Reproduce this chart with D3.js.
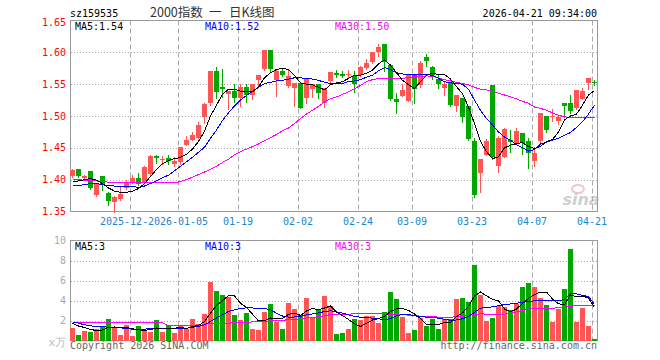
<!DOCTYPE html>
<html>
<head>
<meta charset="utf-8">
<script src="https://cdn.jsdelivr.net/npm/d3@7"></script>
<style>
  body { margin: 0; background: #fff; }
  svg { display: block; font-family: 'DejaVu Sans Mono', monospace; font-size: 10px; }
</style>
</head>
<body>
<svg id="chart" width="660" height="360"></svg>
<script>
// daily bars, 2025-12-08 .. 2026-04-21 (88 sessions)
const openP = [1.406,1.416,1.402,1.413,1.376,1.405,1.379,1.365,1.369,1.387,
  1.396,1.403,1.396,1.409,1.437,1.432,1.434,1.424,1.427,1.455,
  1.463,1.466,1.498,1.520,1.571,1.545,1.535,1.540,1.529,1.545,
  1.533,1.556,1.574,1.604,1.556,1.571,1.547,1.544,1.552,1.529,
  1.543,1.551,1.520,1.555,1.567,1.566,1.565,1.563,1.564,1.575,
  1.585,1.600,1.613,1.580,1.527,1.532,1.524,1.565,1.548,1.592,
  1.577,1.558,1.544,1.553,1.516,1.529,1.515,1.460,1.411,1.438,
  1.549,1.422,1.436,1.463,1.457,1.474,1.460,1.429,1.461,1.500,
  1.4985,1.492,1.520,1.521,1.512,1.527,1.5525,1.553];
const closeP = [1.415,1.405,1.405,1.387,1.394,1.392,1.367,1.372,1.378,1.396,
  1.403,1.393,1.420,1.437,1.434,1.433,1.429,1.430,1.452,1.463,
  1.470,1.486,1.519,1.571,1.538,1.543,1.539,1.529,1.545,1.533,
  1.550,1.564,1.604,1.574,1.571,1.564,1.563,1.552,1.513,1.558,
  1.551,1.536,1.544,1.569,1.564,1.563,1.566,1.551,1.577,1.584,
  1.600,1.608,1.585,1.527,1.522,1.541,1.565,1.543,1.583,1.586,
  1.564,1.550,1.550,1.517,1.533,1.499,1.464,1.376,1.433,1.461,
  1.435,1.465,1.479,1.459,1.476,1.457,1.442,1.442,1.505,1.478,
  1.500,1.499,1.515,1.508,1.541,1.540,1.560,1.552];
const highP = [1.416,1.416,1.408,1.413,1.395,1.405,1.380,1.374,1.388,1.399,
  1.407,1.410,1.421,1.438,1.438,1.437,1.438,1.435,1.452,1.469,
  1.475,1.491,1.520,1.571,1.577,1.574,1.539,1.550,1.550,1.551,
  1.550,1.564,1.604,1.604,1.574,1.576,1.574,1.552,1.552,1.558,
  1.551,1.551,1.544,1.569,1.572,1.571,1.572,1.571,1.579,1.590,
  1.600,1.613,1.613,1.582,1.536,1.550,1.565,1.565,1.587,1.597,
  1.578,1.565,1.553,1.553,1.533,1.529,1.515,1.465,1.433,1.464,
  1.549,1.468,1.481,1.478,1.481,1.474,1.466,1.452,1.505,1.500,
  1.511,1.502,1.520,1.533,1.541,1.544,1.560,1.557];
const lowP = [1.404,1.404,1.400,1.385,1.375,1.383,1.360,1.350,1.368,1.386,
  1.395,1.391,1.395,1.408,1.426,1.424,1.424,1.422,1.425,1.454,
  1.462,1.465,1.489,1.517,1.528,1.530,1.511,1.522,1.516,1.522,
  1.527,1.549,1.572,1.569,1.532,1.563,1.546,1.516,1.512,1.520,
  1.530,1.529,1.514,1.553,1.561,1.562,1.559,1.537,1.563,1.574,
  1.584,1.594,1.570,1.525,1.505,1.531,1.523,1.521,1.546,1.578,
  1.558,1.544,1.533,1.516,1.508,1.491,1.462,1.372,1.381,1.438,
  1.433,1.412,1.435,1.444,1.456,1.441,1.418,1.421,1.458,1.475,
  1.492,1.487,1.499,1.505,1.511,1.526,1.543,1.549];
// volume, x10k
const volume = [1.3,0.57,0.97,0.87,1.17,1.4,2.17,1.23,0.5,1.57,
  0.47,1.47,1.07,0.87,2.07,0.87,1.53,0.77,1.53,1.17,
  2.17,1.67,2.67,5.87,4.97,4.57,4.4,2.57,2.07,2.73,
  1.17,1.07,2.87,3.67,1.87,1.17,3.77,3.17,2.57,4.27,
  2.27,3.07,4.47,3.45,0.67,0.8,1.17,2.2,2.1,2.47,
  2.47,1.77,2.87,4.87,4.17,2.37,0.77,1.07,2.27,1.47,
  2.17,1.17,2.17,2.17,4.17,4.27,3.87,7.57,4.57,1.97,
  2.27,3.47,3.37,3.07,3.67,5.37,5.77,5.37,4.27,3.57,
  1.87,3.17,5.17,9.17,1.87,3.27,1.47,0.17];

// moving averages as drawn on the chart
const ma5 = [1.396,1.398,1.400,1.402,1.399,1.394,1.387,1.382,1.380,1.380,
  1.382,1.386,1.394,1.405,1.416,1.425,1.430,1.433,1.435,1.440,
  1.448,1.460,1.476,1.500,1.517,1.534,1.542,1.542,1.539,1.538,
  1.538,1.546,1.560,1.568,1.573,1.575,1.573,1.564,1.552,1.550,
  1.549,1.545,1.541,1.549,1.552,1.554,1.559,1.564,1.564,1.567,
  1.572,1.582,1.588,1.580,1.568,1.556,1.549,1.543,1.554,1.564,
  1.567,1.565,1.565,1.558,1.546,1.535,1.514,1.488,1.460,1.444,
  1.433,1.436,1.450,1.454,1.457,1.458,1.452,1.449,1.452,1.460,
  1.463,1.475,1.494,1.500,1.503,1.517,1.533,1.540];
const ma10 = [1.390,1.391,1.392,1.394,1.394,1.392,1.391,1.390,1.390,1.390,
  1.389,1.388,1.390,1.394,1.398,1.403,1.407,1.414,1.421,1.428,
  1.435,1.443,1.451,1.465,1.478,1.493,1.505,1.516,1.525,1.532,
  1.539,1.545,1.551,1.553,1.555,1.556,1.558,1.560,1.560,1.559,
  1.558,1.556,1.553,1.551,1.551,1.551,1.554,1.555,1.557,1.561,
  1.564,1.571,1.576,1.573,1.568,1.566,1.565,1.565,1.565,1.565,
  1.564,1.559,1.554,1.552,1.551,1.550,1.542,1.525,1.509,1.496,
  1.486,1.475,1.467,1.462,1.455,1.450,1.445,1.447,1.456,1.459,
  1.462,1.465,1.470,1.474,1.482,1.491,1.503,1.517];
const ma30 = [1.400,1.400,1.399,1.399,1.398,1.397,1.396,1.395,1.395,1.395,
  1.395,1.395,1.395,1.395,1.395,1.395,1.395,1.395,1.397,1.400,
  1.404,1.408,1.412,1.416,1.421,1.427,1.432,1.439,1.444,1.448,
  1.452,1.456,1.461,1.466,1.471,1.477,1.481,1.488,1.496,1.503,
  1.509,1.515,1.522,1.527,1.530,1.534,1.538,1.543,1.548,1.554,
  1.557,1.559,1.559,1.559,1.559,1.559,1.5606,1.5617,1.562,1.563,
  1.562,1.560,1.557,1.555,1.553,1.551,1.549,1.545,1.542,1.541,
  1.539,1.536,1.533,1.530,1.527,1.523,1.520,1.514,1.512,1.509,
  1.505,1.501,1.499,1.497,1.497,1.497,1.497,1.497];
const vma5 = [1.73,1.45,1.3,1.1,1.0,1.05,1.3,1.35,1.28,1.3,
  1.17,1.06,1.02,1.1,1.2,1.25,1.25,1.22,1.32,1.2,
  1.4,1.5,1.9,2.75,3.5,4.0,4.47,4.45,3.73,3.3,
  2.63,1.95,2.0,2.25,2.15,2.2,2.62,2.73,2.51,2.95,
  3.2,3.07,3.25,3.45,2.85,2.5,2.1,1.67,1.4,1.72,
  2.05,2.18,2.4,2.9,3.18,3.2,3.0,2.66,2.2,1.62,
  1.56,1.6,1.8,1.83,2.38,2.76,3.4,4.45,4.85,4.47,
  4.1,3.98,3.15,2.86,3.15,3.7,4.2,4.6,4.85,4.85,
  4.15,3.66,3.6,4.58,4.35,4.45,4.25,3.3];
const vma10 = [1.87,1.73,1.57,1.47,1.4,1.37,1.33,1.33,1.27,1.2,
  1.13,1.1,1.13,1.2,1.25,1.23,1.2,1.17,1.2,1.22,
  1.33,1.4,1.57,1.9,2.25,2.57,2.9,3.07,3.2,3.27,
  3.25,3.2,3.2,3.07,2.73,2.45,2.33,2.35,2.4,2.57,
  2.65,2.75,2.9,2.97,2.87,2.73,2.57,2.4,2.33,2.3,
  2.23,2.17,2.07,2.2,2.47,2.6,2.6,2.47,2.4,2.33,
  2.33,2.23,2.12,2.02,2.05,2.17,2.4,2.83,3.23,3.3,
  3.37,3.47,3.6,3.65,3.73,3.8,3.9,3.97,4.0,4.0,
  4.0,3.97,4.1,4.68,4.67,4.5,4.4,3.6];
const vma30 = [1.77,1.77,1.77,1.77,1.77,1.77,1.77,1.77,1.77,1.77,
  1.77,1.77,1.77,1.77,1.77,1.77,1.47,1.47,1.47,1.47,
  1.47,1.47,1.6,1.7,1.73,1.73,1.73,1.8,1.8,1.8,
  1.87,1.87,1.87,1.97,1.97,1.97,2.13,2.13,2.13,2.27,
  2.27,2.4,2.45,2.6,2.6,2.6,2.63,2.67,2.67,2.67,
  2.67,2.67,2.67,2.63,2.63,2.63,2.53,2.53,2.43,2.43,
  2.43,2.33,2.33,2.33,2.37,2.43,2.53,2.6,2.67,2.63,
  2.63,2.63,2.63,2.73,2.87,3.0,3.13,3.23,3.23,3.23,
  3.23,3.27,3.33,3.43,3.47,3.47,3.47,3.47];

const tickIndex = [10, 18, 28, 38, 48, 57, 67, 77, 87];
// first label is mostly hidden under the second one in the original, only "2025-12-" shows
const tickLabels = ['2025-12-', '2026-01-05', '01-19', '02-02', '02-24', '03-09', '03-23', '04-07', '04-21'];
const priceTicks = [1.35, 1.40, 1.45, 1.50, 1.55, 1.60, 1.65];
const volTicks = [2, 4, 6, 8, 10];

const UP = '#ff5555', DOWN = '#00a800', GRID = '#aaa', BORDER = '#999';

const svg = d3.select('#chart');

const x = d3.scaleBand().domain(d3.range(openP.length)).range([70, 598]);
const y = d3.scaleLinear().domain([1.35, 1.65]).range([211.5, 20.5]);
const yVol = d3.scaleLinear().domain([0, 10]).range([340.5, 240.5]);
const px = (v) => Math.round(v) + 0.5;

// panel grid + frame
function drawPanel(scale, gridValues, top, bottom) {
  const g = svg.append('g');
  g.selectAll('.h')
    .data(gridValues)
    .join('line')
    .attr('x1', 71).attr('x2', 597)
    .attr('y1', (d) => px(scale(d))).attr('y2', (d) => px(scale(d)))
    .attr('stroke', GRID).attr('stroke-dasharray', '1,2');
  g.selectAll('.v')
    .data(tickIndex)
    .join('line')
    .attr('x1', (d) => x(d) + 0.5).attr('x2', (d) => x(d) + 0.5)
    .attr('y1', top).attr('y2', bottom)
    .attr('stroke', GRID).attr('stroke-dasharray', '5,3');
  g.append('rect')
    .attr('x', 70.5).attr('y', top)
    .attr('width', 527).attr('height', bottom - top)
    .attr('fill', 'none').attr('stroke', BORDER);
}

drawPanel(y, [1.40, 1.45, 1.50, 1.55, 1.60], 20.5, 211.5);
drawPanel(yVol, [2, 4, 6, 8], 240.5, 340.5);

// watermark
const logo = svg.append('g').attr('opacity', 0.55);
logo.append('ellipse').attr('cx', 578).attr('cy', 189).attr('rx', 6).attr('ry', 4)
  .attr('fill', 'none').attr('stroke', '#d9a0a0').attr('stroke-width', 2);
logo.append('text').attr('x', 581).attr('y', 205).attr('text-anchor', 'middle')
  .style('font-family', 'DejaVu Sans').style('font-size', '16px')
  .style('font-weight', 'bold').style('font-style', 'italic')
  .attr('fill', '#aaa').text('sina');

// candles
const isUp = (i) => closeP[i] > openP[i];
const candles = svg.append('g').attr('shape-rendering', 'crispEdges');
candles.selectAll('line')
  .data(d3.range(openP.length))
  .join('line')
  .attr('x1', (i) => x(i) + 2.5).attr('x2', (i) => x(i) + 2.5)
  .attr('y1', (i) => Math.round(y(highP[i]))).attr('y2', (i) => Math.round(y(lowP[i])) + 1)
  .attr('stroke', (i) => (isUp(i) ? UP : DOWN));
candles.selectAll('rect')
  .data(d3.range(openP.length))
  .join('rect')
  .attr('x', (i) => x(i))
  .attr('y', (i) => Math.round(y(Math.max(openP[i], closeP[i]))))
  .attr('width', x.bandwidth() - 1)
  .attr('height', (i) => Math.max(1, Math.round(y(Math.min(openP[i], closeP[i]))) - Math.round(y(Math.max(openP[i], closeP[i])))))
  .attr('fill', (i) => (isUp(i) ? UP : DOWN));

// volume bars
svg.append('g').attr('shape-rendering', 'crispEdges')
  .selectAll('rect')
  .data(volume)
  .join('rect')
  .attr('x', (d, i) => x(i))
  .attr('y', (d) => Math.round(yVol(d)))
  .attr('width', x.bandwidth() - 1)
  .attr('height', (d) => 341 - Math.round(yVol(d)))
  .attr('fill', (d, i) => (isUp(i) ? UP : DOWN));

// moving average lines
function drawLine(values, scale, color) {
  const line = d3.line().x((d, i) => x(i) + 2.5).y((d) => scale(d));
  svg.append('path')
    .attr('d', line(values))
    .attr('fill', 'none')
    .attr('stroke', color)
    .attr('stroke-width', 1)
    .attr('shape-rendering', 'crispEdges');
}
drawLine(ma30, y, '#ff00ff');
drawLine(ma10, y, '#0000ff');
drawLine(ma5, y, '#000');
drawLine(vma30, yVol, '#ff00ff');
drawLine(vma10, yVol, '#0000ff');
drawLine(vma5, yVol, '#000');

// y labels
svg.append('g').selectAll('text')
  .data(priceTicks)
  .join('text')
  .attr('x', 66).attr('y', (d) => y(d) + (d === 1.65 ? 5.5 : 3.5))
  .attr('text-anchor', 'end').attr('fill', '#f00')
  .text((d) => d.toFixed(2));
svg.append('g').selectAll('text')
  .data(volTicks)
  .join('text')
  .attr('x', 66).attr('y', (d) => yVol(d) + 3.5)
  .attr('text-anchor', 'end').attr('fill', '#aaa')
  .text((d) => d);
svg.append('text').attr('x', 66).attr('y', 346).attr('text-anchor', 'end')
  .attr('fill', '#bbb').style('font-size', '11px').text('x万');

// x labels
const xl = svg.append('g').attr('fill', '#1a86d0');
tickIndex.forEach((d, k) => {
  if (k === 0) {
    // starts where the full centred date would start
    xl.append('text').attr('x', x(d) - 30).attr('y', 225).text(tickLabels[k]);
  } else {
    xl.append('text').attr('x', x(d)).attr('y', 225).attr('text-anchor', 'middle').text(tickLabels[k]);
  }
});

// MA legends
const legends = [['MA5:1.54', '#000', 75], ['MA10:1.52', '#0000ff', 205], ['MA30:1.50', '#ff00ff', 335]];
const volLegends = [['MA5:3', '#000', 75], ['MA10:3', '#0000ff', 205], ['MA30:3', '#ff00ff', 335]];
legends.forEach(([t, c, lx]) => svg.append('text').attr('x', lx).attr('y', 29.5).attr('fill', c).text(t));
volLegends.forEach(([t, c, lx]) => svg.append('text').attr('x', lx).attr('y', 249.5).attr('fill', c).text(t));

// header
svg.append('text').attr('x', 70).attr('y', 16.5).attr('fill', '#000').text('sz159535');
svg.append('text').attr('x', 597).attr('y', 16.5).attr('text-anchor', 'end').attr('fill', '#000').text('2026-04-21 09:34:00');
const title = svg.append('g').attr('fill', '#333')
  .style('font-family', "'Noto Sans CJK SC', sans-serif").style('font-size', '12.5px');
title.append('text').attr('x', 150).attr('y', 16.5).text('2000指数');
title.append('text').attr('x', 209).attr('y', 16.5).text('一');
title.append('text').attr('x', 229).attr('y', 16.5).text('日K线图');

// footer
svg.append('text').attr('x', 70).attr('y', 349).attr('fill', '#666').text('Copyright 2026 SINA.COM');
svg.append('text').attr('x', 597).attr('y', 349).attr('text-anchor', 'end').attr('fill', '#666').text('http://finance.sina.com.cn');
</script>
</body>
</html>
